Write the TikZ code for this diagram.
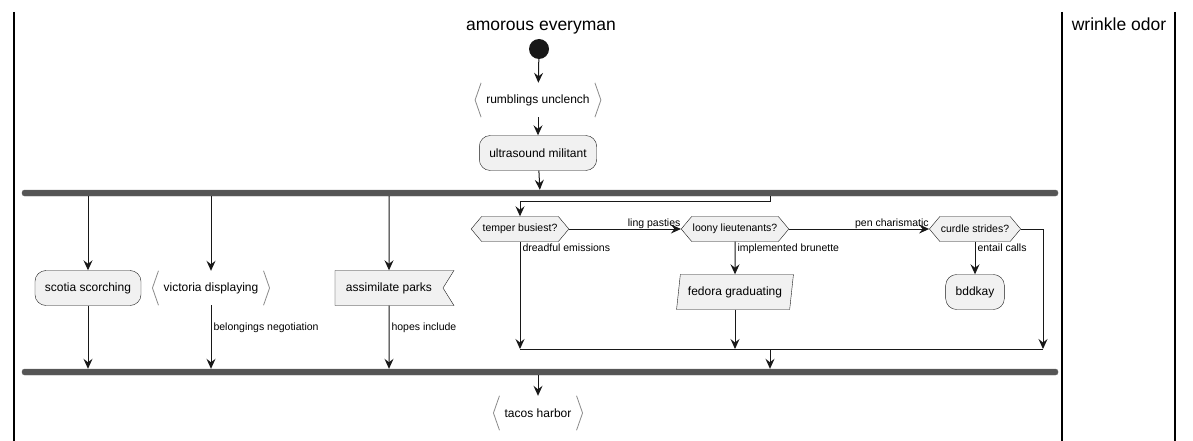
\documentclass[tikz,border=0pt]{standalone}
\usepackage{fontspec}
\setmainfont{Liberation Sans}
\usepackage{xcolor}
\usetikzlibrary{arrows.meta,shapes.symbols,shapes.geometric}

\definecolor{boxfill}{HTML}{F1F1F1}
\definecolor{boxline}{HTML}{181818}
\definecolor{brkline}{HTML}{8A8A8A}
\definecolor{barfill}{HTML}{555555}
\definecolor{barline}{HTML}{6A6A6A}

% open brackets round an input node
\newcommand\iobrackets[1]{%
  \draw[brk] ([xshift=6pt]#1.north west) -- (#1.west) -- ([xshift=6pt]#1.south west);
  \draw[brk] ([xshift=-6pt]#1.north east) -- (#1.east) -- ([xshift=-6pt]#1.south east);}

\begin{document}
\begin{tikzpicture}[x=1pt, y=-1pt,
    act/.style={draw=boxline, fill=boxfill, rounded corners=11pt, minimum height=35pt, inner xsep=10pt, font=\fontsize{12}{14}\selectfont},
    io/.style={minimum height=34pt, inner xsep=11pt, font=\fontsize{12}{14}\selectfont},
    brk/.style={draw=brkline, line width=0.8pt},
    flag/.style={signal, signal to=nowhere, signal from=east, signal pointer angle=116, draw=boxline, fill=boxfill, minimum height=35pt, inner xsep=11pt, font=\fontsize{12}{14}\selectfont},
    dec/.style={signal, signal to=west and east, signal pointer angle=100, draw=boxline, fill=boxfill, minimum height=25pt, inner xsep=1pt, inner ysep=0pt, font=\fontsize{10.5}{12}\selectfont},
    data/.style={trapezium, trapezium left angle=79, trapezium right angle=101, trapezium stretches=true, draw=boxline, fill=boxfill, minimum width=117pt, minimum height=35pt, font=\fontsize{12}{14}\selectfont},
    bar/.style={draw=barline, fill=barfill, rounded corners=2.5pt, minimum width=1036pt, minimum height=6pt, inner sep=0pt},
    arr/.style={-{Stealth[length=10pt, width=9pt, inset=3.5pt]}, draw=boxline, line width=1pt},
    lbl/.style={font=\fontsize{10.5}{12}\selectfont, inner sep=2pt},
    lane/.style={line width=1.4pt},
    lanehead/.style={font=\fontsize{17.5}{20}\selectfont, anchor=base}
]
\useasboundingbox (0,0) rectangle (1193,441);

% swimlanes
\draw[lane] (14,12) -- (14,441);
\draw[lane] (1062,12) -- (1062,441);
\draw[lane] (1175,12) -- (1175,441);
\node[lanehead] (lane1) at (541,31) {amorous everyman};
\node[lanehead] (lane2) at (1119,31) {wrinkle odor};

% nodes
\node[circle, fill=boxline, minimum size=20pt, inner sep=0pt] (start) at (539,49) {};
\node[io] (rumbl) at (538,100) {rumblings unclench};
\node[act] (ultra) at (538,153) {ultrasound militant};
\node[bar] (fork) at (540,193) {};
\node[act] (scotia) at (88,288) {scotia scorching};
\node[io] (victoria) at (211,288) {victoria displaying};
\node[flag] (assim) at (389,288) {assimilate parks};
\node[dec] (temper) at (520,229) {temper busiest?};
\node[dec] (loony) at (735,229) {loony lieutenants?};
\node[dec] (curdle) at (975,229) {curdle strides?};
\node[data] (fedora) at (735,292) {fedora graduating};
\node[act] (bddkay) at (975,292) {bddkay};
\node[bar] (join) at (540,372) {};
\node[io] (tacos) at (538,413) {tacos harbor};
\coordinate (split) at (770,201);
\coordinate (mergeR) at (1043,349);

\iobrackets{rumbl}
\iobrackets{victoria}
\iobrackets{tacos}

% connectors
\draw[arr] (start) -- (rumbl);
\draw[arr] (rumbl) -- (ultra);
\draw[arr] (ultra) -- (fork);
\draw[arr] (fork.south -| scotia) -- (scotia);
\draw[arr] (fork.south -| victoria) -- (victoria);
\draw[arr] (fork.south -| assim) -- (assim);
\draw[arr] (fork.south -| split) -- (split) -| (temper.north);
\draw[arr] (scotia) -- (scotia |- join.north);
\draw[arr] (victoria) -- node[lbl, right, pos=0.35] {belongings negotiation} (victoria |- join.north);
\draw[arr] (assim) -- node[lbl, right, pos=0.35] {hopes include} (assim |- join.north);
\draw[arr] (temper.east) -- node[lbl, above left, pos=1, inner sep=0pt] {ling pasties} (loony.west);
\draw[arr] (loony.east) -- node[lbl, above left, pos=1, inner sep=0pt] {pen charismatic} (curdle.west);
\draw[arr] (temper.south) -- node[lbl, below right, pos=0] {dreadful emissions} (temper |- mergeR);
\draw[arr] (loony.south) -- node[lbl, below right, pos=0] {implemented brunette} (fedora.north);
\draw[arr] (curdle.south) -- node[lbl, below right, pos=0] {entail calls} (bddkay.north);
\draw[arr] (fedora) -- (fedora |- mergeR);
\draw[arr] (curdle.east) -| (mergeR);
\draw[boxline, line width=1pt] (temper |- mergeR) -- (mergeR);
\draw[arr] (split |- mergeR) -- (split |- join.north);
\draw[arr] (join.south -| tacos) -- (tacos);
\end{tikzpicture}
\end{document}
